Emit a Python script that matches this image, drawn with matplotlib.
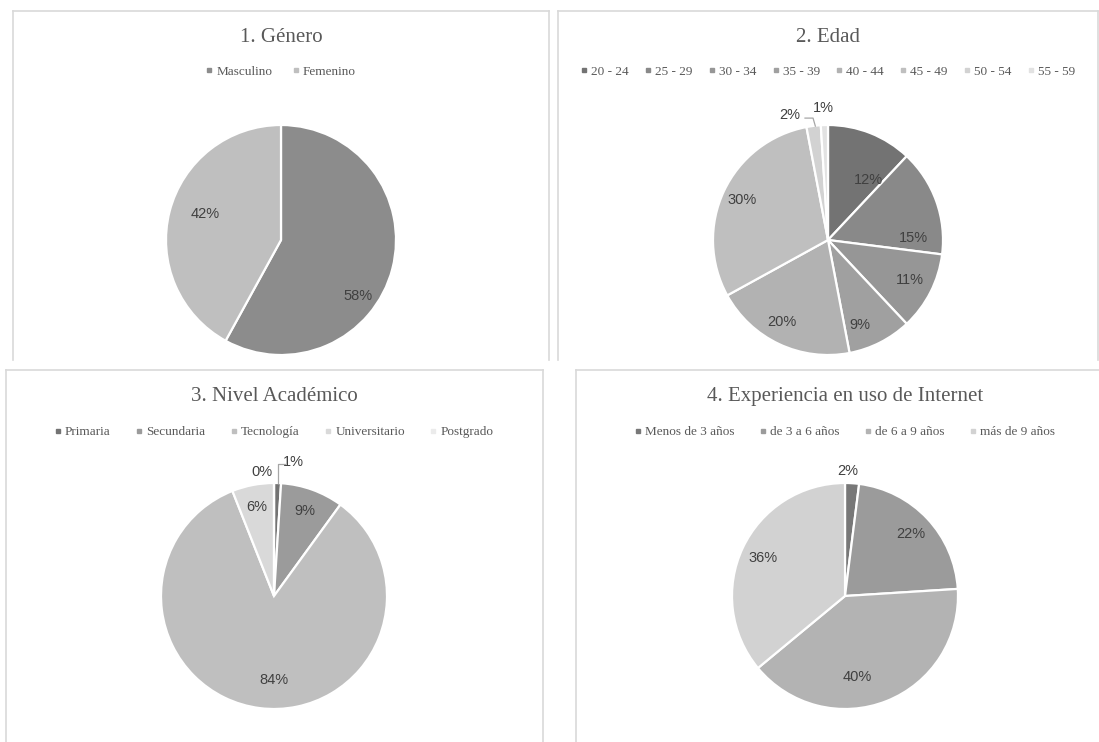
import numpy as np
import matplotlib
matplotlib.use("Agg")
import matplotlib.pyplot as plt
from matplotlib.lines import Line2D

W, H = 1099, 742

# survey results (percent)
genero_labels = ["Masculino", "Femenino"]
genero_vals = [58, 42]
genero_colors = ["#8c8c8c", "#bfbfbf"]

edad_labels = ["20 - 24", "25 - 29", "30 - 34", "35 - 39", "40 - 44", "45 - 49", "50 - 54", "55 - 59"]
edad_vals = [12, 15, 11, 9, 20, 30, 2, 1]
edad_colors = ["#737373", "#898989", "#969696", "#a0a0a0", "#b2b2b2", "#bfbfbf", "#d2d2d2", "#e2e2e2"]

nivel_labels = ["Primaria", "Secundaria", "Tecnología", "Universitario", "Postgrado"]
nivel_vals = [1, 9, 84, 6, 0]
nivel_colors = ["#737373", "#9b9b9b", "#bfbfbf", "#d9d9d9", "#ebebeb"]

exp_labels = ["Menos de 3 años", "de 3 a 6 años", "de 6 a 9 años", "más de 9 años"]
exp_vals = [2, 22, 40, 36]
exp_colors = ["#787878", "#9b9b9b", "#b3b3b3", "#d2d2d2"]

TXT = "#595959"
LBL = "#404040"
BORDER = "#d9d9d9"

fig = plt.figure(figsize=(W / 100, H / 100), dpi=100)


def fx(px):
    return px / W


def fy(py):
    return 1 - py / H


def border(x0, x1, y0, y1, left=True, right=True):
    # open-bottom frame around a panel
    if left:
        fig.add_artist(Line2D([fx(x0), fx(x0)], [fy(y0), fy(y1)], color=BORDER, lw=1.2))
    if right:
        fig.add_artist(Line2D([fx(x1), fx(x1)], [fy(y0), fy(y1)], color=BORDER, lw=1.2))
    fig.add_artist(Line2D([fx(x0), fx(x1)], [fy(y0), fy(y0)], color=BORDER, lw=1.2))


def panel(title, labels, vals, colors, cx, cy, r, title_y, leg_y, colspace,
          label_pos=None, leader=None):
    fig.text(fx(cx), fy(title_y), title, ha="center", va="center",
             fontsize=15, color=TXT, family="Liberation Serif")
    handles = [Line2D([], [], marker="s", ls="none", ms=2.8, color=c) for c in colors]
    fig.legend(handles, labels, loc="center", bbox_to_anchor=(fx(cx), fy(leg_y)),
               ncol=len(labels), frameon=False, handlelength=0.5, handletextpad=0.3,
               columnspacing=colspace, prop={"family": "Liberation Serif", "size": 9.5},
               labelcolor=TXT)

    ax = fig.add_axes([fx(cx - r), fy(cy + r), 2 * r / W, 2 * r / H])
    wedges, _ = ax.pie(vals, colors=colors, startangle=90, counterclock=False,
                       wedgeprops=dict(edgecolor="white", linewidth=1.6))
    ax.set_xlim(-1, 1)
    ax.set_ylim(-1, 1)
    ax.axis("off")
    label_pos = label_pos or {}
    for i, (w, v) in enumerate(zip(wedges, vals)):
        if i in label_pos:
            x, y = label_pos[i]
        else:
            ang = np.deg2rad((w.theta1 + w.theta2) / 2)
            x, y = 0.8 * np.cos(ang), 0.8 * np.sin(ang)
        ax.text(x, y, f"{v}%", ha="center", va="center", fontsize=10.5,
                color=LBL, family="Liberation Sans", clip_on=False)
    if leader:
        for pts in leader:
            xs, ys = zip(*pts)
            ax.add_line(Line2D(xs, ys, color="#a6a6a6", lw=0.9, clip_on=False))


border(13, 549, 11, 360)
border(558, 1098, 11, 360)
border(6, 543, 370, 742)
border(576, 1099, 370, 742, right=False)

panel("1. Género", genero_labels, genero_vals, genero_colors,
      281, 240, 115, 37, 72, 1.5,
      label_pos={0: (0.67, -0.49), 1: (-0.66, 0.23)})
panel("2. Edad", edad_labels, edad_vals, edad_colors,
      828, 240, 115, 37, 72, 1.2,
      label_pos={0: (0.35, 0.52), 1: (0.74, 0.02), 2: (0.71, -0.35),
                 3: (0.28, -0.74), 4: (-0.40, -0.71), 5: (-0.75, 0.35),
                 6: (-0.33, 1.09), 7: (-0.04, 1.15)},
      leader=[[(-0.2, 1.06), (-0.13, 1.06), (-0.11, 0.99)]])
panel("3. Nivel Académico", nivel_labels, nivel_vals, nivel_colors,
      274, 596, 113, 397, 432, 1.9,
      label_pos={0: (0.17, 1.19), 2: (0.0, -0.74), 4: (-0.11, 1.10)},
      leader=[[(0.1, 1.17), (0.035, 1.17), (0.035, 1.0)]])
panel("4. Experiencia en uso de Internet", exp_labels, exp_vals, exp_colors,
      845, 596, 113, 397, 432, 1.9,
      label_pos={0: (0.02, 1.11), 2: (0.11, -0.72)})

fig.savefig("out.png", dpi=100, facecolor="white")
